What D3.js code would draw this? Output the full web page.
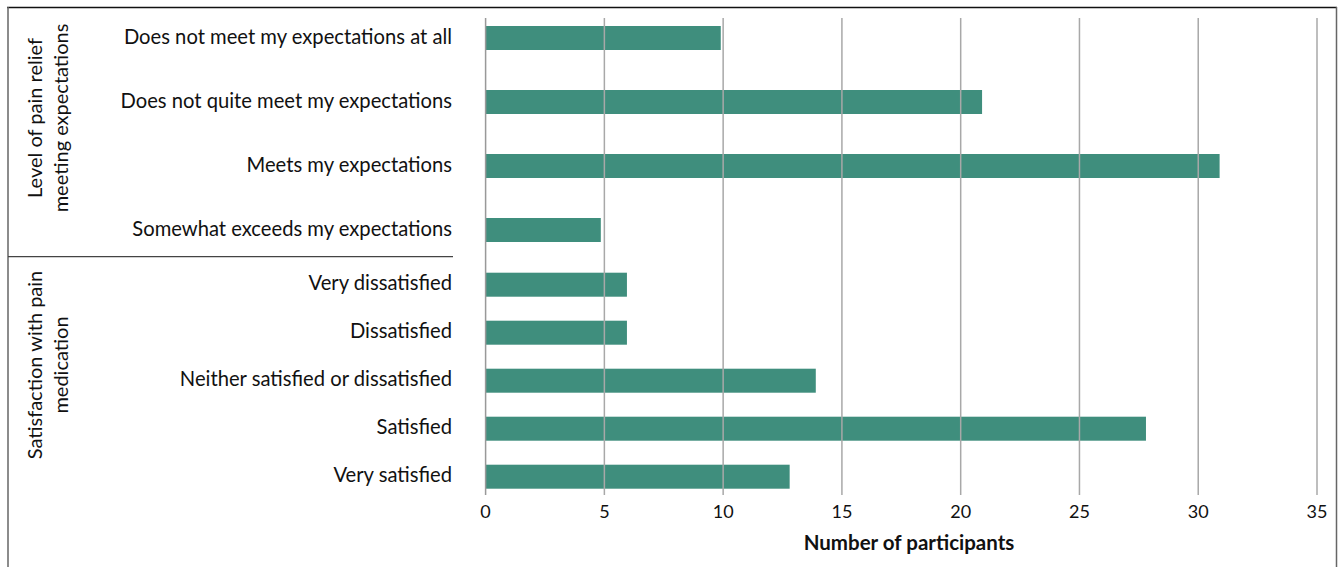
<!DOCTYPE html>
<html>
<head>
<meta charset="utf-8">
<script src="https://cdn.jsdelivr.net/npm/d3@7"></script>
<style>
  body { margin: 0; background: #fff; }
  text { font-family: Lato, "Open Sans", sans-serif; fill: #111; }
</style>
</head>
<body>
<div id="chart"></div>
<script>
// group 1 : level of pain relief meeting expectations
var expectCats = ["Does not meet my expectations at all", "Does not quite meet my expectations",
                  "Meets my expectations", "Somewhat exceeds my expectations"];
var expectVals = [9.9, 20.9, 30.9, 4.85];

// group 2 : satisfaction with pain medication
var satisCats = ["Very dissatisfied", "Dissatisfied", "Neither satisfied or dissatisfied",
                 "Satisfied", "Very satisfied"];
var satisVals = [5.95, 5.95, 13.9, 27.8, 12.8];

var groupTitles = [["Level of pain relief", "meeting expectations"],
                   ["Satisfaction with pain", "medication"]];
var xTicks = [0, 5, 10, 15, 20, 25, 30, 35];

var width = 1343, height = 567;
var barColor = "#3f8e7d";

var svg = d3.select("#chart").append("svg")
    .attr("width", width)
    .attr("height", height);

//x scale
var x = d3.scaleLinear().domain([0, 35]).range([485.6, 1317]);

//two band scales, the groups do not share the same spacing
var y1 = d3.scaleBand().domain(expectCats).range([6, 262]).paddingInner(0.625).paddingOuter(0.3125);
var y2 = d3.scaleBand().domain(satisCats).range([260.7, 500.7]).paddingInner(0.5).paddingOuter(0.25);

//outer frame
svg.append("line").attr("x1", 7).attr("x2", 1337).attr("y1", 7.5).attr("y2", 7.5)
    .attr("stroke", "#111").attr("stroke-width", 1.5);
svg.append("line").attr("x1", 8).attr("x2", 8).attr("y1", 7).attr("y2", height)
    .attr("stroke", "#666").attr("stroke-width", 1.5);
svg.append("line").attr("x1", 1336.5).attr("x2", 1336.5).attr("y1", 7).attr("y2", height)
    .attr("stroke", "#666").attr("stroke-width", 1.5);

//separator between groups
svg.append("line").attr("x1", 8).attr("x2", 453).attr("y1", 256.7).attr("y2", 256.7)
    .attr("stroke", "#444").attr("stroke-width", 1.2);

//bars
function drawBars(cats, vals, y) {
  svg.append("g")
    .selectAll("rect")
    .data(cats)
    .enter().append("rect")
    .attr("x", x(0))
    .attr("y", function(d){ return y(d); })
    .attr("height", y.bandwidth())
    .attr("width", function(d, i){ return x(vals[i]) - x(0); })
    .attr("fill", barColor);

  svg.append("g")
    .selectAll("text")
    .data(cats)
    .enter().append("text")
    .attr("x", 452)
    .attr("y", function(d){ return y(d) + y.bandwidth() / 2 + 5.5; })
    .attr("text-anchor", "end")
    .style("font-size", "20.2px")
    .text(function(d){ return d; });
}
drawBars(expectCats, expectVals, y1);
drawBars(satisCats, satisVals, y2);

//gridlines go over the bars
svg.append("g")
    .selectAll("line")
    .data(xTicks)
    .enter().append("line")
    .attr("x1", function(d){ return x(d); })
    .attr("x2", function(d){ return x(d); })
    .attr("y1", 18)
    .attr("y2", 495)
    .attr("stroke", function(d){ return d === 0 ? "#999" : "#a8a8a8"; })
    .attr("stroke-width", 1.5);

//tick labels
svg.append("g")
    .selectAll("text")
    .data(xTicks)
    .enter().append("text")
    .attr("x", function(d){ return x(d); })
    .attr("y", 518)
    .attr("text-anchor", "middle")
    .style("font-size", "18px")
    .text(function(d){ return d; });

//axis title
svg.append("text")
    .attr("x", 909)
    .attr("y", 550)
    .attr("text-anchor", "middle")
    .style("font-size", "20.5px")
    .style("font-weight", "bold")
    .text("Number of participants");

//rotated group titles
var titleCenters = [118, 365];
groupTitles.forEach(function(lines, g) {
  var t = svg.append("text")
    .attr("transform", "translate(0," + titleCenters[g] + ") rotate(-90)")
    .attr("text-anchor", "middle")
    .style("font-size", "20px");
  lines.forEach(function(l, i) {
    t.append("tspan").attr("x", 0).attr("y", 41.5 + i * 26.5).text(l);
  });
});
</script>
</body>
</html>
